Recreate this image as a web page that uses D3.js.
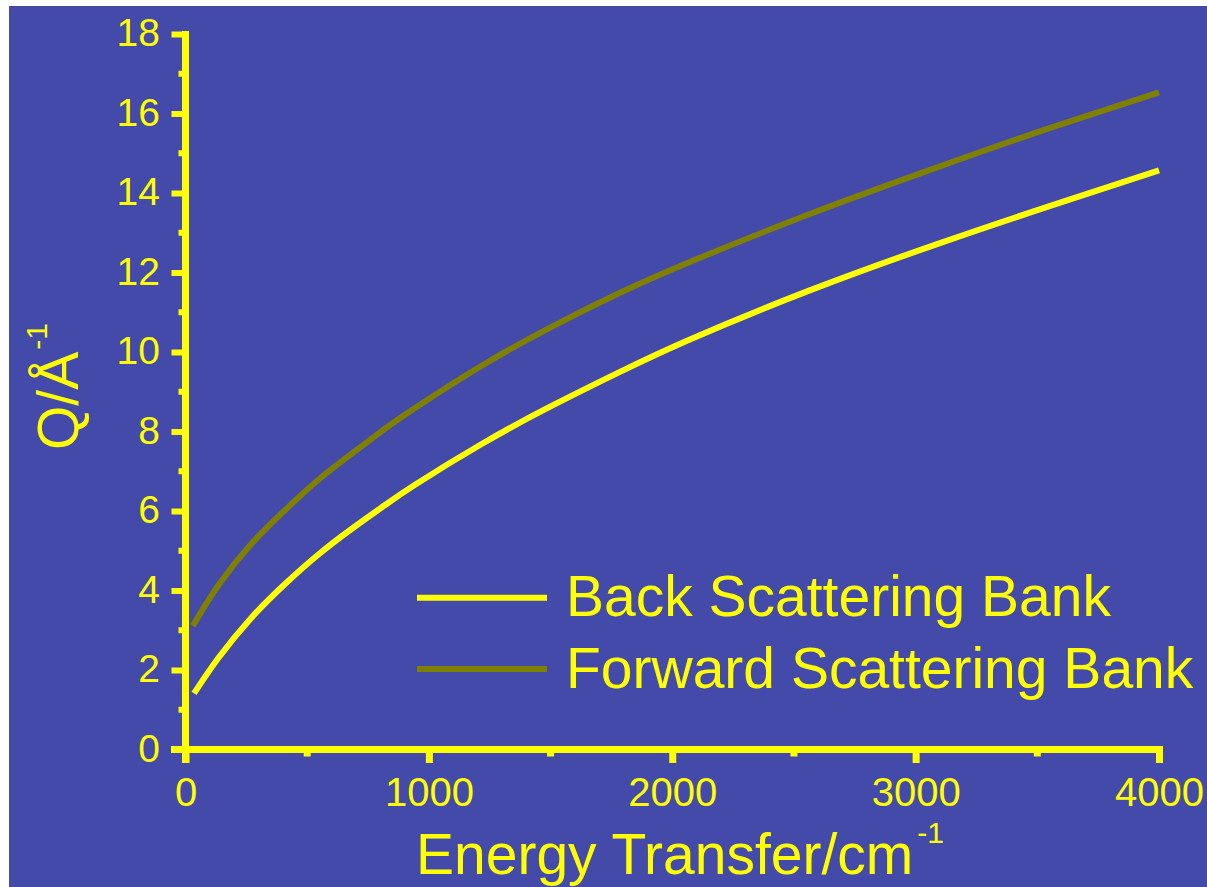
<!DOCTYPE html>
<html>
<head>
<meta charset="utf-8">
<script src="https://cdn.jsdelivr.net/npm/d3@7"></script>
<style>
  html, body { margin: 0; padding: 0; background: #ffffff; }
  svg { display: block; }
  text { font-family: "Liberation Sans", Arial, sans-serif; fill: #ffff00; }
</style>
</head>
<body>
<svg id="chart" width="1207" height="887"></svg>
<script>
// Energy transfer (cm^-1) and momentum transfer Q (Å^-1) for the two detector banks
const backEnergy = [35, 135, 270, 410, 545, 685, 820, 940, 1210, 1500, 1785, 2070, 2565, 3100, 3550, 4000];
const backQ      = [1.41, 2.30, 3.31, 4.17, 4.90, 5.56, 6.15, 6.65, 7.66, 8.63, 9.50, 10.31, 11.55, 12.74, 13.67, 14.57];

const forwardEnergy = [30, 135, 270, 410, 545, 685, 820, 940, 1210, 1500, 1785, 2070, 2565, 3100, 3550, 4000];
const forwardQ      = [3.11, 4.13, 5.17, 6.03, 6.78, 7.45, 8.07, 8.58, 9.63, 10.62, 11.49, 12.26, 13.47, 14.67, 15.63, 16.53];

const seriesNames = ["Back Scattering Bank", "Forward Scattering Bank"];
const seriesColors = ["#ffff00", "#808000"];

const xTicks = [0, 1000, 2000, 3000, 4000];
const xMinorTicks = [500, 1500, 2500, 3500];
const yTicks = [0, 2, 4, 6, 8, 10, 12, 14, 16, 18];
const yMinorTicks = [1, 3, 5, 7, 9, 11, 13, 15, 17];

const svg = d3.select("#chart");
const W = 1207, H = 887;

// blue panel
svg.append("rect")
  .attr("x", 9).attr("y", 6)
  .attr("width", W - 9).attr("height", H - 6)
  .attr("fill", "#434aa9");

const x = d3.scaleLinear().domain([0, 4000]).range([185.5, 1159]);
const y = d3.scaleLinear().domain([0, 18]).range([749.5, 34]);

const axisColor = "#ffff00";

// curves
const line = d3.line()
  .x(d => x(d[0]))
  .y(d => y(d[1]))
  .curve(d3.curveNatural);

const series = [
  d3.zip(backEnergy, backQ),
  d3.zip(forwardEnergy, forwardQ)
];

svg.append("g").selectAll("path")
  .data(series)
  .join("path")
  .attr("d", line)
  .attr("fill", "none")
  .attr("stroke", (d, i) => seriesColors[i])
  .attr("stroke-width", 6);

// y axis
const yAxis = svg.append("g").attr("transform", `translate(${x(0)},0)`);
yAxis.call(d3.axisLeft(y).tickValues(yTicks).tickSize(14).tickPadding(12).tickFormat(d3.format("d")));
yAxis.select(".domain").remove();
yAxis.selectAll(".tick line").attr("stroke", axisColor).attr("stroke-width", 6);
yAxis.selectAll(".tick text")
  .attr("font-size", 39)
  .attr("font-family", "Liberation Sans, Arial, sans-serif")
  .attr("fill", axisColor)
  .attr("dy", "0.3em")
  .attr("x", -25.5);
yAxis.append("g").selectAll("line")
  .data(yMinorTicks)
  .join("line")
  .attr("x1", -7).attr("x2", 0)
  .attr("y1", d => y(d)).attr("y2", d => y(d))
  .attr("stroke", axisColor).attr("stroke-width", 6);
yAxis.append("line")
  .attr("x1", 0).attr("x2", 0)
  .attr("y1", y(18) - 3).attr("y2", y(0) + 13.5)
  .attr("stroke", axisColor).attr("stroke-width", 7);

// x axis
const xAxis = svg.append("g").attr("transform", `translate(0,${y(0)})`);
xAxis.call(d3.axisBottom(x).tickValues(xTicks).tickSize(13.5).tickPadding(16).tickFormat(d3.format("d")));
xAxis.select(".domain").remove();
xAxis.selectAll(".tick line").attr("stroke", axisColor).attr("stroke-width", 7);
xAxis.selectAll(".tick text")
  .attr("font-size", 40)
  .attr("font-family", "Liberation Sans, Arial, sans-serif")
  .attr("fill", axisColor)
  .attr("dy", 0)
  .attr("y", 56.5);
xAxis.append("g").selectAll("line")
  .data(xMinorTicks)
  .join("line")
  .attr("y1", 0).attr("y2", 7)
  .attr("x1", d => x(d)).attr("x2", d => x(d))
  .attr("stroke", axisColor).attr("stroke-width", 7);
xAxis.append("line")
  .attr("x1", x(0) - 14.5).attr("x2", x(4000) + 4)
  .attr("y1", 0).attr("y2", 0)
  .attr("stroke", axisColor).attr("stroke-width", 7);

// axis titles
const xTitle = svg.append("text")
  .attr("x", 416).attr("y", 874)
  .attr("font-size", 57);
xTitle.append("tspan").text("Energy Transfer/cm");
xTitle.append("tspan").attr("font-size", 30).attr("dx", 4).attr("dy", -31).text("-1");

const yTitle = svg.append("text")
  .attr("transform", "translate(78,450) rotate(-90)")
  .attr("font-size", 57);
yTitle.append("tspan").text("Q/Å");
yTitle.append("tspan").attr("font-size", 30).attr("dx", 2).attr("dy", -31).text("-1");

// legend
const legend = svg.append("g");
const legendY = [597.7, 669];
seriesNames.forEach((name, i) => {
  legend.append("line")
    .attr("x1", 417).attr("x2", 547)
    .attr("y1", legendY[i]).attr("y2", legendY[i])
    .attr("stroke", seriesColors[i]).attr("stroke-width", 6);
  legend.append("text")
    .attr("x", 566).attr("y", legendY[i] + 18.5)
    .attr("font-size", 57)
    .text(name);
});
</script>
</body>
</html>
